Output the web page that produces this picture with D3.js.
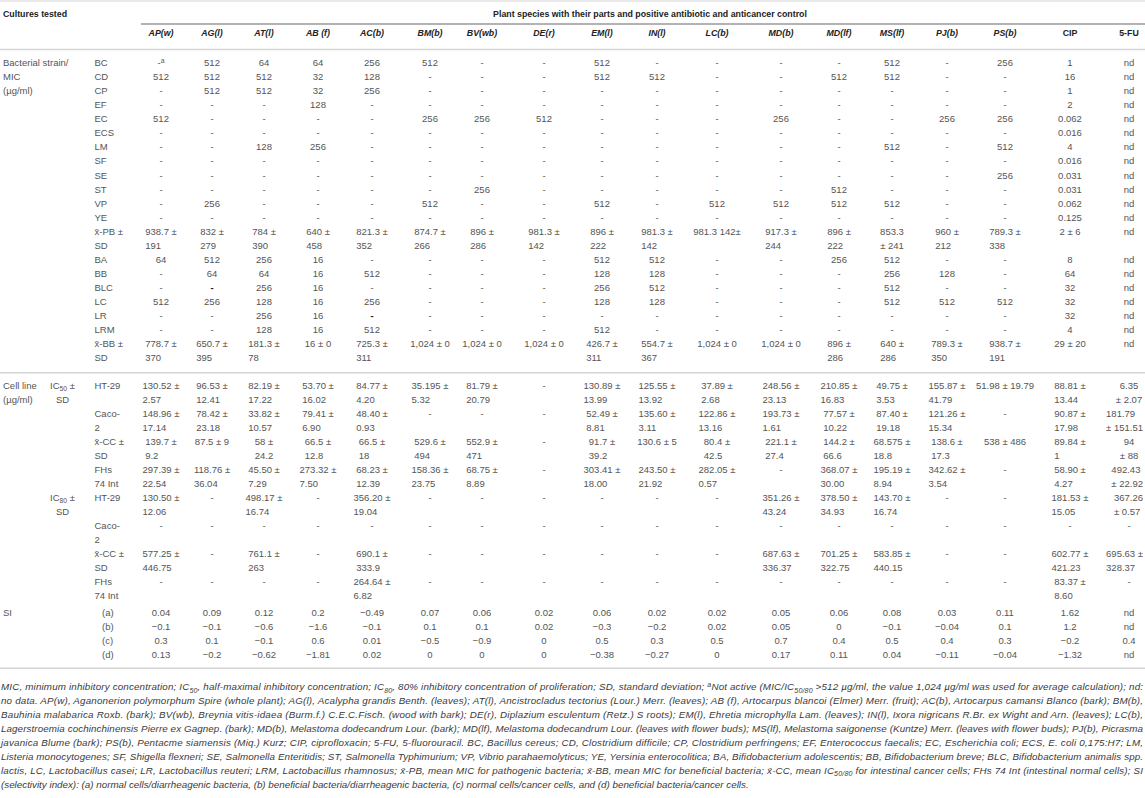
<!DOCTYPE html>
<html>
<head>
<meta charset="utf-8">
<script src="https://cdn.jsdelivr.net/npm/d3@7"></script>
<style>
body { margin:0; background:#fff; }
svg text { font-family:"Liberation Sans", Arial, Helvetica, sans-serif; }
</style>
</head>
<body>
<svg id="table" width="1145" height="798"></svg>
<script>
// ===== table data =====
var columns = ["AP(w)","AG(l)","AT(l)","AB (f)","AC(b)","BM(b)","BV(wb)","DE(r)","EM(l)","IN(l)",
               "LC(b)","MD(b)","MD(lf)","MS(lf)","PJ(b)","PS(b)","CIP","5-FU"]
var plantColumns = 16 // first 16 columns are plant extracts (italic headers)

// pathogenic (diarrheagenic) bacteria, MIC in ug/ml
var pathogenLabels = ["BC","CD","CP","EF","EC","ECS","LM","SF","SE","ST","VP","YE"]
var pathogenMIC = [
  ["-^{a}","512","64","64","256","512","-","-","512","-","-","-","-","512","-","256","1","nd"],
  ["512","512","512","32","128","-","-","-","512","512","-","-","512","512","-","-","16","nd"],
  ["-","512","512","32","256","-","-","-","-","-","-","-","-","-","-","-","1","nd"],
  ["-","-","-","128","-","-","-","-","-","-","-","-","-","-","-","-","2","nd"],
  ["512","-","-","-","-","256","256","512","-","-","-","256","-","-","256","256","0.062","nd"],
  ["-","-","-","-","-","-","-","-","-","-","-","-","-","-","-","-","0.016","nd"],
  ["-","-","128","256","-","-","-","-","-","-","-","-","-","512","-","512","4","nd"],
  ["-","-","-","-","-","-","-","-","-","-","-","-","-","-","-","-","0.016","nd"],
  ["-","-","-","-","-","-","-","-","-","-","-","-","-","-","-","256","0.031","nd"],
  ["-","-","-","-","-","-","256","-","-","-","-","-","512","-","-","-","0.031","nd"],
  ["-","256","-","-","-","512","-","-","512","-","512","512","512","512","-","-","0.062","nd"],
  ["-","-","-","-","-","-","-","-","-","-","-","-","-","-","-","-","0.125","nd"]
]
var pathogenMean = ["938.7 ±\n191","832 ±\n279","784 ±\n390","640 ±\n458","821.3 ±\n352","874.7 ±\n266",
  "896 ±\n286","981.3 ±\n142","896 ±\n222","981.3 ±\n142","981.3 142±","917.3 ±\n244","896 ±\n222",
  "853.3\n± 241","960 ±\n212","789.3 ±\n338","2 ± 6","nd"]

// beneficial bacteria, MIC in ug/ml ("\u2011" = heavy dash in the source)
var beneficialLabels = ["BA","BB","BLC","LC","LR","LRM"]
var beneficialMIC = [
  ["64","512","256","16","-","-","-","-","512","512","-","-","256","512","-","-","8","nd"],
  ["-","64","64","16","512","-","-","-","128","128","-","-","-","256","128","-","64","nd"],
  ["-","\u2011","256","16","-","-","-","-","256","512","-","-","-","512","-","-","32","nd"],
  ["512","256","128","16","256","-","-","-","128","128","-","-","-","512","512","512","32","nd"],
  ["-","-","256","16","\u2011","-","-","-","-","-","-","-","-","-","-","-","32","nd"],
  ["-","-","128","16","512","-","-","-","512","-","-","-","-","-","-","-","4","nd"]
]
var beneficialMean = ["778.7 ±\n370","650.7 ±\n395","181.3 ±\n78","16 ± 0","725.3 ±\n311","1,024 ± 0",
  "1,024 ± 0","1,024 ± 0","426.7 ±\n311","554.7 ±\n367","1,024 ± 0","1,024 ± 0","896 ±\n286",
  "640 ±\n286","789.3 ±\n350","938.7 ±\n191","29 ± 20","nd"]

// cell lines
var cellLabels = ["HT-29","Caco-\n2","x\u0304-CC ±\nSD","FHs\n74 Int"]
var ic50 = [
  ["130.52 ±\n2.57","96.53 ±\n12.41","82.19 ±\n17.22","53.70 ±\n16.02","84.77 ±\n4.20","35.195 ±\n5.32",
   "81.79 ±\n20.79","-","130.89 ±\n13.99","125.55 ±\n13.92","37.89 ±\n2.68","248.56 ±\n23.13",
   "210.85 ±\n16.83","49.75 ±\n3.53","155.87 ±\n41.79","51.98 ± 19.79","88.81 ±\n13.44","6.35\n± 2.07"],
  ["148.96 ±\n17.14","78.42 ±\n23.18","33.82 ±\n10.57","79.41 ±\n6.90","48.40 ±\n0.93","-","-","-",
   "52.49 ±\n8.81","135.60 ±\n3.11","122.86 ±\n13.16","193.73 ±\n1.61","77.57 ±\n10.22","87.40 ±\n19.18",
   "121.26 ±\n15.34","-","90.87 ±\n17.98","181.79\n± 151.51"],
  ["139.7 ±\n9.2","87.5 ± 9","58 ±\n24.2","66.5 ±\n12.8","66.5 ±\n18","529.6 ±\n494","552.9 ±\n471","-",
   "91.7 ±\n39.2","130.6 ± 5","80.4 ±\n42.5","221.1 ±\n27.4","144.2 ±\n66.6","68.575 ±\n18.8",
   "138.6 ±\n17.3","538 ± 486","89.84 ±\n1","94\n± 88"],
  ["297.39 ±\n22.54","118.76 ±\n36.04","45.50 ±\n7.29","273.32 ±\n7.50","68.23 ±\n12.39","158.36 ±\n23.75",
   "68.75 ±\n8.89","-","303.41 ±\n18.00","243.50 ±\n21.92","282.05 ±\n0.57","-","368.07 ±\n30.00",
   "195.19 ±\n8.94","342.62 ±\n3.54","-","58.90 ±\n4.27","492.43\n± 22.92"]
]
var ic80 = [
  ["130.50 ±\n12.06","-","498.17 ±\n16.74","-","356.20 ±\n19.04","-","-","-","-","-","-","351.26 ±\n43.24",
   "378.50 ±\n34.93","143.70 ±\n16.74","-","-","181.53 ±\n15.05","367.26\n± 0.57"],
  ["-","-","-","-","-","-","-","-","-","-","-","-","-","-","-","-","-","-"],
  ["577.25 ±\n446.75","-","761.1 ±\n263","-","690.1 ±\n333.9","-","-","-","-","-","-","687.63 ±\n336.37",
   "701.25 ±\n322.75","583.85 ±\n440.15","-","-","602.77 ±\n421.23","695.63 ±\n328.37"],
  ["-","-","-","-","264.64 ±\n6.82","-","-","-","-","-","-","-","-","-","-","-","83.37 ±\n8.60","-"]
]

// selectivity index
var siLabels = ["(a)","(b)","(c)","(d)"]
var siValues = [
  ["0.04","0.09","0.12","0.2","−0.49","0.07","0.06","0.02","0.06","0.02","0.02","0.05","0.06","0.08","0.03","0.11","1.62","nd"],
  ["−0.1","−0.1","−0.6","−1.6","−0.1","0.1","0.1","0.02","−0.3","−0.2","0.02","0.05","0","−0.1","−0.04","0.1","1.2","nd"],
  ["0.3","0.1","−0.1","0.6","0.01","−0.5","−0.9","0","0.5","0.3","0.5","0.7","0.4","0.5","0.4","0.3","−0.2","0.4"],
  ["0.13","−0.2","−0.62","−1.81","0.02","0","0","0","−0.38","−0.27","0","0.17","0.11","0.04","−0.11","−0.04","−1.32","nd"]
]

var footnoteLines = [
  "MIC, minimum inhibitory concentration; IC_{50}, half-maximal inhibitory concentration; IC_{80}, 80% inhibitory concentration of proliferation; SD, standard deviation; ^{a}Not active (MIC/IC_{50/80} >512 µg/ml, the value 1,024 µg/ml was used for average calculation); nd:",
  "no data. AP(w), Aganonerion polymorphum Spire (whole plant); AG(l), Acalypha grandis Benth. (leaves); AT(l), Ancistrocladus tectorius (Lour.) Merr. (leaves); AB (f), Artocarpus blancoi (Elmer) Merr. (fruit); AC(b), Artocarpus camansi Blanco (bark); BM(b),",
  "Bauhinia malabarica Roxb. (bark); BV(wb), Breynia vitis-idaea (Burm.f.) C.E.C.Fisch. (wood with bark); DE(r), Diplazium esculentum (Retz.) S roots); EM(l), Ehretia microphylla Lam. (leaves); IN(l), Ixora nigricans R.Br. ex Wight and Arn. (leaves); LC(b),",
  "Lagerstroemia cochinchinensis Pierre ex Gagnep. (bark); MD(b), Melastoma dodecandrum Lour. (bark); MD(lf), Melastoma dodecandrum Lour. (leaves with flower buds); MS(lf), Melastoma saigonense (Kuntze) Merr. (leaves with flower buds); PJ(b), Picrasma",
  "javanica Blume (bark); PS(b), Pentacme siamensis (Miq.) Kurz; CIP, ciprofloxacin; 5-FU, 5-fluorouracil. BC, Bacillus cereus; CD, Clostridium difficile; CP, Clostridium perfringens; EF, Enterococcus faecalis; EC, Escherichia coli; ECS, E. coli 0,175:H7; LM,",
  "Listeria monocytogenes; SF, Shigella flexneri; SE, Salmonella Enteritidis; ST, Salmonella Typhimurium; VP, Vibrio parahaemolyticus; YE, Yersinia enterocolitica; BA, Bifidobacterium adolescentis; BB, Bifidobacterium breve; BLC, Bifidobacterium animalis spp.",
  "lactis, LC, Lactobacillus casei; LR, Lactobacillus reuteri; LRM, Lactobacillus rhamnosus; x\u0304-PB, mean MIC for pathogenic bacteria; x\u0304-BB, mean MIC for beneficial bacteria; x\u0304-CC, mean IC_{50/80} for intestinal cancer cells; FHs 74 Int (intestinal normal cells); SI",
  "(selectivity index): (a) normal cells/diarrheagenic bacteria, (b) beneficial bacteria/diarrheagenic bacteria, (c) normal cells/cancer cells, and (d) beneficial bacteria/cancer cells."
]

// ===== layout =====
var W = 1145
var rightEdge = 1143
var textColor = "#555"
var headColor = "#222"
var ruleColor = "#d4d4d4"
var bodySize = 9.5
var lineH = 14.05

var svg = d3.select("#table")

var colScale = d3.scaleOrdinal()
  .domain(columns)
  .range([161,212,264,318,372,430,482,544,602,657,717,781,839,892,947,1005,1070,1129])

// one linear scale per block: line index -> vertical centre of that text line
var bactY = d3.scaleLinear().domain([0,1]).range([62.7, 62.7 + lineH])
var cellY = d3.scaleLinear().domain([0,1]).range([385.3, 385.3 + 14.0])
var siY = d3.scaleLinear().domain([0,1]).range([612.7, 612.7 + 14.0])
var noteY = d3.scaleLinear().domain([0,1]).range([686.8, 686.8 + 13.9])

// writes "a_{sub}^{sup}" style strings into a text element as tspans
function rich(textSel, str, size) {
  var parts = str.split(/(_\{[^}]*\}|\^\{[^}]*\})/)
  var shift = 0
  parts.forEach(function(p) {
    if (!p) return
    var t = textSel.append("tspan")
    if (p.indexOf("_{") === 0) {
      t.text(p.slice(2, -1)).attr("font-size", size * 0.72).attr("dy", 2.2 - shift)
      shift = 2.2
    } else if (p.indexOf("^{") === 0) {
      t.text(p.slice(2, -1)).attr("font-size", size * 0.72).attr("dy", -3.2 - shift)
      shift = -3.2
    } else {
      t.text(p)
      if (shift !== 0) { t.attr("dy", -shift); shift = 0 }
    }
  })
  return textSel
}

function bodyText(x, yc, anchor) {
  return svg.append("text")
    .attr("x", x)
    .attr("y", yc + 3.4)
    .attr("text-anchor", anchor || "start")
    .attr("font-size", bodySize)
    .attr("fill", textColor)
}

// draws one cell; wrapped cells keep their lines left aligned under the first line
function drawCell(str, cx, yScale, line) {
  var lines = str.split("\n")
  if (lines.length === 1) {
    var t = rich(bodyText(cx, yScale(line), "middle"), str, bodySize)
    if (str === "\u2011") t.attr("font-weight", "bold").attr("fill", "#111").text("-")
    return
  }
  var texts = lines.map(function(l, i) { return bodyText(0, yScale(line + i)).text(l) })
  var widths = texts.map(function(t) { return t.node().getComputedTextLength() })
  var maxW = d3.max(widths)
  if (lines[1].charAt(0) === "±" && cx + maxW / 2 <= rightEdge) {
    // each line centred on the column
    texts.forEach(function(t, i) { t.attr("x", cx - widths[i] / 2) })
    return
  }
  var x0 = cx - widths[0] / 2
  if (x0 + maxW > rightEdge) x0 = rightEdge - maxW
  texts.forEach(function(t) { t.attr("x", x0) })
}

function drawRow(values, yScale, line) {
  values.forEach(function(v, i) { drawCell(v, colScale(columns[i]), yScale, line) })
}

function rule(x1, y, x2, color, width) {
  svg.append("line")
    .attr("x1", x1).attr("x2", x2).attr("y1", y).attr("y2", y)
    .attr("stroke", color).attr("stroke-width", width)
}

// ----- rules -----
rule(0, 1, W, ruleColor, 1.2)
rule(141, 24, W, "#9a9a9a", 1.3)
rule(0, 49.5, W, ruleColor, 1.4)
rule(0, 372.7, W, ruleColor, 1.4)
rule(0, 668.3, W, ruleColor, 1.4)

// ----- headers -----
svg.append("text")
  .attr("x", 3).attr("y", 17.2)
  .attr("font-size", 8.8).attr("font-weight", "bold").attr("fill", headColor)
  .text("Cultures tested")
svg.append("text")
  .attr("x", 650).attr("y", 17.2).attr("text-anchor", "middle")
  .attr("font-size", 8.8).attr("font-weight", "bold").attr("fill", headColor)
  .text("Plant species with their parts and positive antibiotic and anticancer control")

svg.selectAll("text.colhead")
  .data(columns)
  .enter()
  .append("text")
  .attr("class", "colhead")
  .attr("x", function(d) { return colScale(d) })
  .attr("y", 35.5)
  .attr("text-anchor", "middle")
  .attr("font-size", 8.8)
  .attr("font-weight", "bold")
  .attr("font-style", function(d, i) { return i < plantColumns ? "italic" : "normal" })
  .attr("fill", headColor)
  .text(function(d) { return d })

// ----- bacterial strains block -----
var labelX = 94.5
bodyText(3, bactY(0)).text("Bacterial strain/")
bodyText(3, bactY(1)).text("MIC")
bodyText(3, bactY(2)).text("(µg/ml)")

var line = 0
pathogenLabels.forEach(function(lab, r) {
  bodyText(labelX, bactY(line)).text(lab)
  drawRow(pathogenMIC[r], bactY, line)
  line++
})
bodyText(labelX, bactY(line)).text("x\u0304-PB ±")
bodyText(labelX, bactY(line + 1)).text("SD")
drawRow(pathogenMean, bactY, line)
line += 2
beneficialLabels.forEach(function(lab, r) {
  bodyText(labelX, bactY(line)).text(lab)
  drawRow(beneficialMIC[r], bactY, line)
  line++
})
bodyText(labelX, bactY(line)).text("x\u0304-BB ±")
bodyText(labelX, bactY(line + 1)).text("SD")
drawRow(beneficialMean, bactY, line)

// ----- cell line block -----
bodyText(3, cellY(0)).text("Cell line")
bodyText(3, cellY(1)).text("(µg/ml)")

function cellBlock(name, values, start) {
  rich(bodyText(62.5, cellY(start), "middle"), name + " ±", bodySize)
  bodyText(62.5, cellY(start + 1), "middle").text("SD")
  cellLabels.forEach(function(lab, r) {
    var l = start + r * 2
    lab.split("\n").forEach(function(part, k) { bodyText(labelX, cellY(l + k)).text(part) })
    drawRow(values[r], cellY, l)
  })
}
cellBlock("IC_{50}", ic50, 0)
cellBlock("IC_{80}", ic80, 8)

// ----- selectivity index -----
bodyText(3, siY(0)).text("SI")
siLabels.forEach(function(lab, r) {
  bodyText(102, siY(r)).text(lab)
  drawRow(siValues[r], siY, r)
})

// ----- footnote -----
footnoteLines.forEach(function(str, i) {
  var t = svg.append("text")
    .attr("x", 1)
    .attr("y", noteY(i) + 3.5)
    .attr("font-size", 9.8)
    .attr("font-style", "italic")
    .attr("fill", "#3a3a3a")
  rich(t, str, 9.8)
  if (i < footnoteLines.length - 1) {
    t.attr("textLength", 1142).attr("lengthAdjust", "spacing")
  }
})
</script>
</body>
</html>
